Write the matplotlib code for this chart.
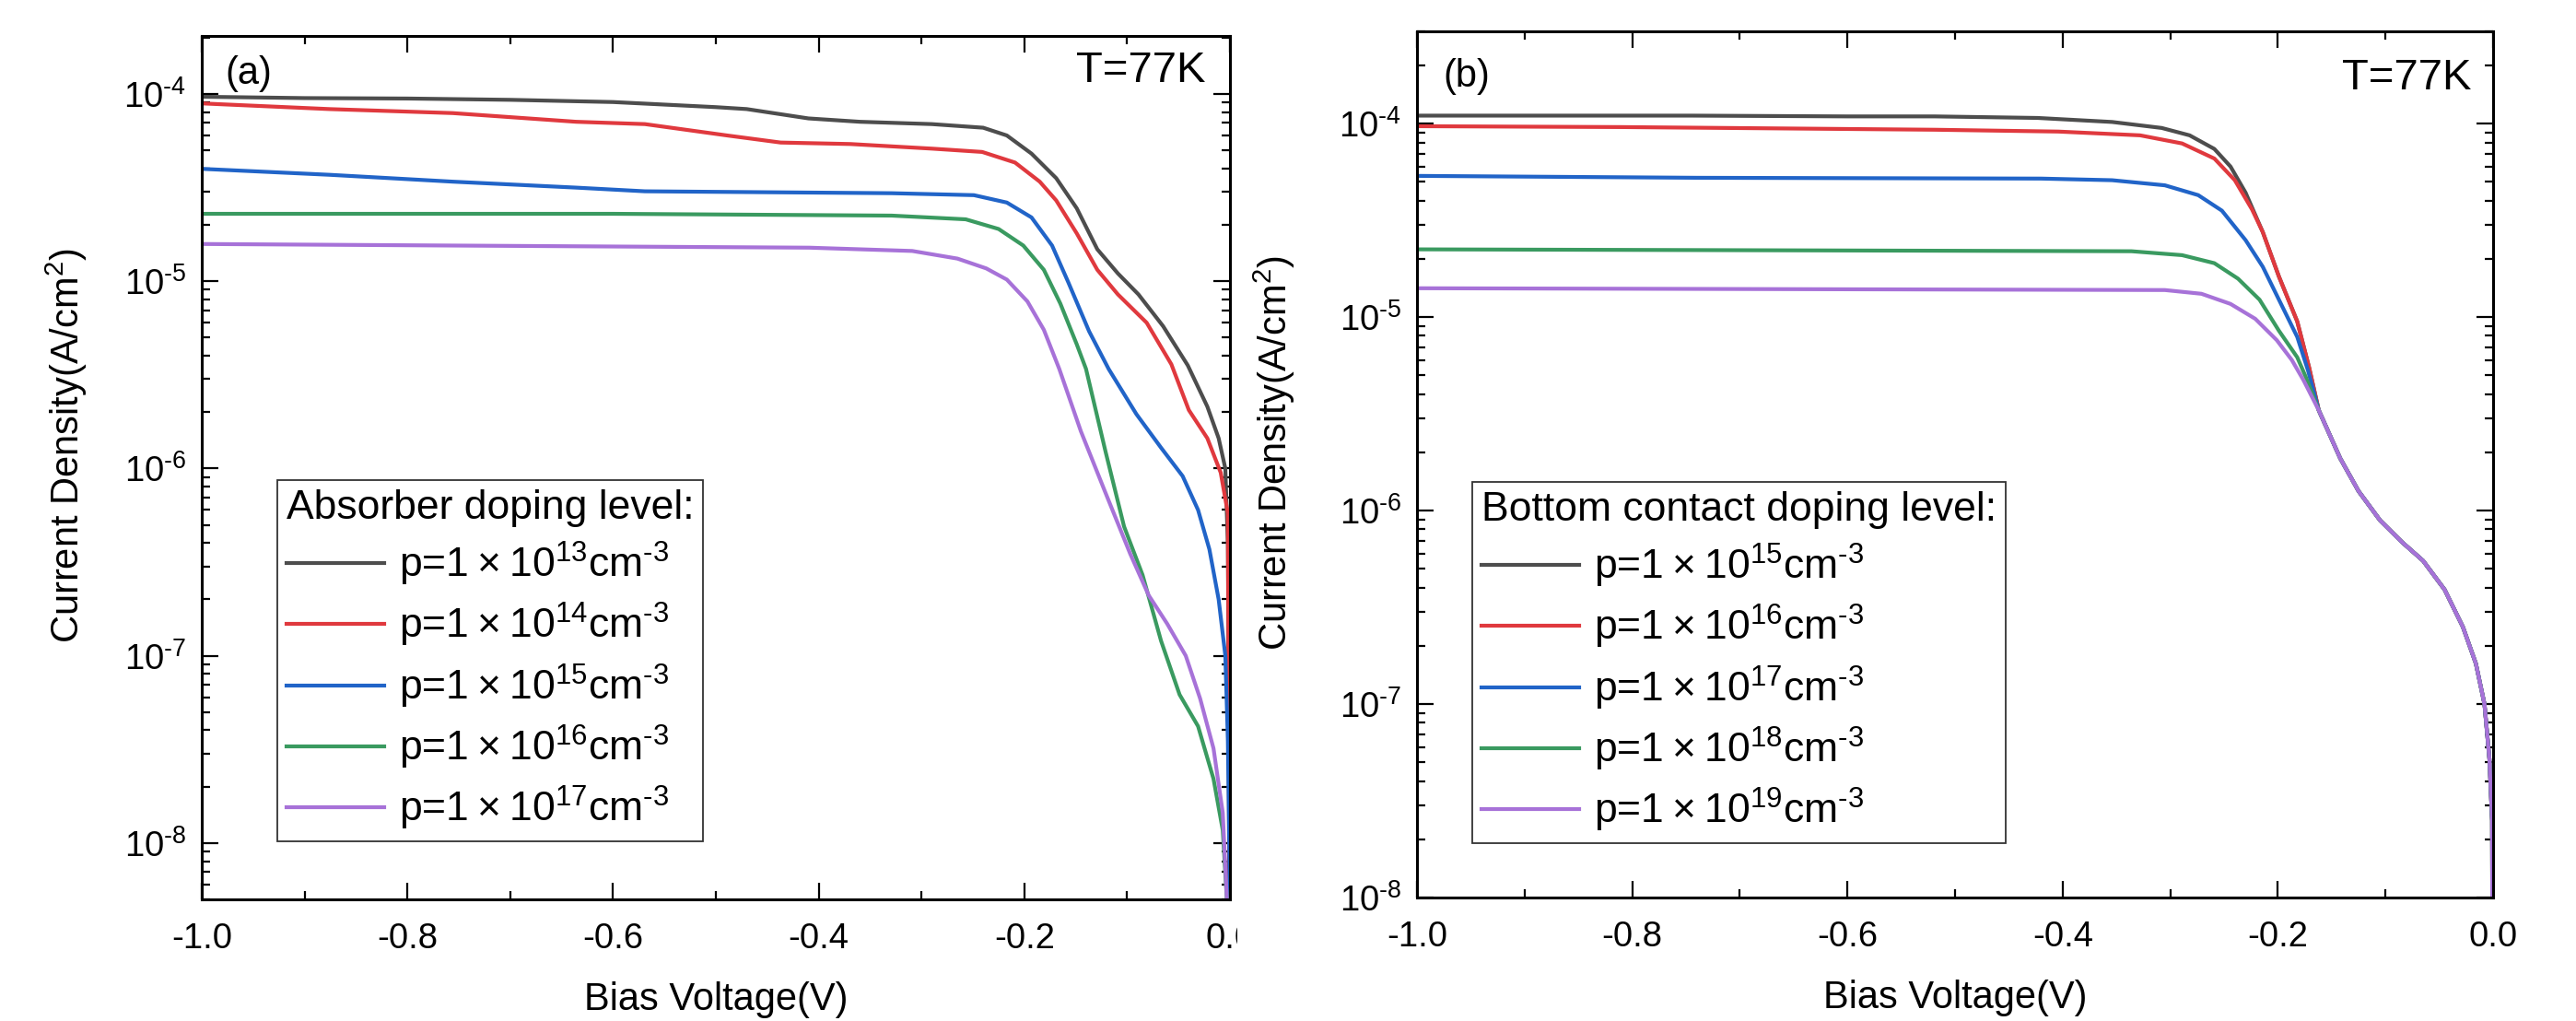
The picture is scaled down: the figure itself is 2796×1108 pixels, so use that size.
import numpy as np
import matplotlib
matplotlib.use("Agg")
import matplotlib.pyplot as plt
from matplotlib.ticker import FixedLocator, FuncFormatter, LogLocator, NullFormatter
from matplotlib.transforms import Bbox, TransformedBbox

plt.rcParams.update({
    'font.family': ['Liberation Sans', 'DejaVu Sans'],
    'mathtext.fontset': 'custom',
    'mathtext.rm': 'Liberation Sans',
    'mathtext.it': 'Liberation Sans:italic',
    'mathtext.bf': 'Liberation Sans:bold',
    'mathtext.default': 'regular',
    'axes.unicode_minus': False,
})

# ---------------- data: panel (a) absorber doping ----------------
va_13 = [-1.0, -0.9, -0.8, -0.7, -0.6, -0.5, -0.47, -0.41, -0.36, -0.29, -0.24, -0.217,
         -0.193, -0.169, -0.149, -0.129, -0.109, -0.089, -0.065, -0.041, -0.022, -0.011,
         -0.0045, -0.002, -0.001, 0.0]
ja_13 = [9.66e-5, 9.5e-5, 9.45e-5, 9.3e-5, 9.05e-5, 8.5e-5, 8.3e-5, 7.4e-5, 7.1e-5, 6.9e-5,
         6.6e-5, 6.0e-5, 4.8e-5, 3.55e-5, 2.45e-5, 1.48e-5, 1.1e-5, 8.5e-6, 5.75e-6, 3.55e-6,
         2.14e-6, 1.45e-6, 1.0e-6, 3.9e-7, 4e-8, 1e-10]

va_14 = [-1.0, -0.876, -0.756, -0.636, -0.569, -0.489, -0.437, -0.369, -0.289, -0.241,
         -0.209, -0.185, -0.169, -0.149, -0.129, -0.109, -0.081, -0.057, -0.040, -0.022,
         -0.009, -0.002, -0.001, 0.0]
ja_14 = [8.9e-5, 8.3e-5, 7.9e-5, 7.1e-5, 6.9e-5, 6.0e-5, 5.5e-5, 5.4e-5, 5.1e-5, 4.9e-5,
         4.3e-5, 3.4e-5, 2.7e-5, 1.8e-5, 1.15e-5, 8.5e-6, 6.0e-6, 3.6e-6, 2.05e-6, 1.45e-6,
         9.5e-7, 5.75e-7, 2.5e-8, 1e-10]

va_15 = [-1.0, -0.876, -0.756, -0.636, -0.569, -0.329, -0.249, -0.217, -0.193, -0.173,
         -0.157, -0.137, -0.118, -0.091, -0.067, -0.046, -0.031, -0.020, -0.011, -0.0045,
         -0.002, -0.0005, 0.0]
ja_15 = [3.98e-5, 3.7e-5, 3.4e-5, 3.16e-5, 3.02e-5, 2.95e-5, 2.88e-5, 2.63e-5, 2.19e-5,
         1.55e-5, 9.8e-6, 5.4e-6, 3.4e-6, 1.95e-6, 1.29e-6, 9.1e-7, 6.0e-7, 3.7e-7, 2.0e-7,
         1.0e-7, 3.5e-8, 8e-9, 1e-10]

va_16 = [-1.0, -0.6, -0.329, -0.257, -0.225, -0.201, -0.181, -0.165, -0.149, -0.140,
         -0.121, -0.103, -0.085, -0.067, -0.049, -0.031, -0.016, -0.007, -0.003, 0.0]
ja_16 = [2.29e-5, 2.29e-5, 2.24e-5, 2.14e-5, 1.9e-5, 1.55e-5, 1.15e-5, 7.6e-6, 4.6e-6,
         3.4e-6, 1.23e-6, 4.9e-7, 2.7e-7, 1.2e-7, 6.2e-8, 4.2e-8, 2.2e-8, 1.17e-8, 5e-9, 1e-10]

va_17 = [-1.0, -0.756, -0.409, -0.309, -0.265, -0.237, -0.217, -0.197, -0.181, -0.166,
         -0.145, -0.121, -0.097, -0.079, -0.061, -0.043, -0.029, -0.016, -0.007, -0.003, 0.0]
ja_17 = [1.58e-5, 1.55e-5, 1.51e-5, 1.45e-5, 1.32e-5, 1.17e-5, 1.02e-5, 7.8e-6, 5.5e-6,
         3.4e-6, 1.58e-6, 7.4e-7, 3.5e-7, 2.1e-7, 1.48e-7, 1.0e-7, 5.9e-8, 3.2e-8, 1.45e-8,
         5e-9, 1e-10]

labels_a = ['p=1\u2009×\u200910$^{13}$cm$^{\\text{-}3}$', 'p=1\u2009×\u200910$^{14}$cm$^{\\text{-}3}$',
            'p=1\u2009×\u200910$^{15}$cm$^{\\text{-}3}$', 'p=1\u2009×\u200910$^{16}$cm$^{\\text{-}3}$',
            'p=1\u2009×\u200910$^{17}$cm$^{\\text{-}3}$']

# ---------------- data: panel (b) bottom contact doping ----------------
vb_15 = [-1.0, -0.744, -0.6, -0.519, -0.423, -0.354, -0.308, -0.282, -0.259, -0.244,
         -0.230, -0.214, -0.199, -0.182, -0.171]
jb_15 = [1.10e-4, 1.10e-4, 1.09e-4, 1.09e-4, 1.07e-4, 1.02e-4, 9.5e-5, 8.7e-5, 7.4e-5,
         6.0e-5, 4.4e-5, 2.75e-5, 1.62e-5, 9.5e-6, 5.5e-6]

vb_16 = [-1.0, -0.81, -0.519, -0.404, -0.328, -0.289, -0.259, -0.240, -0.224, -0.214,
         -0.199, -0.182, -0.171]
jb_16 = [9.7e-5, 9.6e-5, 9.3e-5, 9.1e-5, 8.7e-5, 7.9e-5, 6.6e-5, 5.1e-5, 3.6e-5, 2.75e-5,
         1.62e-5, 9.5e-6, 5.5e-6]

vb_17 = [-1.0, -0.74, -0.42, -0.354, -0.305, -0.274, -0.252, -0.230, -0.214, -0.199,
         -0.182, -0.172]
jb_17 = [5.37e-5, 5.25e-5, 5.2e-5, 5.1e-5, 4.8e-5, 4.27e-5, 3.55e-5, 2.5e-5, 1.82e-5,
         1.23e-5, 7.9e-6, 5.3e-6]

vb_18 = [-1.0, -0.336, -0.289, -0.259, -0.237, -0.217, -0.199, -0.182, -0.174]
jb_18 = [2.24e-5, 2.19e-5, 2.09e-5, 1.9e-5, 1.58e-5, 1.23e-5, 8.5e-6, 6.2e-6, 4.9e-6]

vb_19 = [-1.0, -0.305, -0.271, -0.244, -0.221, -0.201, -0.187, -0.176]
jb_19 = [1.41e-5, 1.38e-5, 1.32e-5, 1.17e-5, 9.8e-6, 7.6e-6, 6.0e-6, 4.7e-6]

# shared tail where all five curves overlap
vb_tail = [-0.162, -0.142, -0.125, -0.105, -0.085, -0.065, -0.045, -0.028,
           -0.016, -0.008, -0.0034, -0.0009, 0.0]
jb_tail = [3.3e-6, 1.86e-6, 1.26e-6, 8.9e-7, 6.9e-7, 5.5e-7, 3.9e-7, 2.5e-7,
           1.62e-7, 1.0e-7, 5.2e-8, 2.5e-8, 1e-10]

labels_b = ['p=1\u2009×\u200910$^{15}$cm$^{\\text{-}3}$', 'p=1\u2009×\u200910$^{16}$cm$^{\\text{-}3}$',
            'p=1\u2009×\u200910$^{17}$cm$^{\\text{-}3}$', 'p=1\u2009×\u200910$^{18}$cm$^{\\text{-}3}$',
            'p=1\u2009×\u200910$^{19}$cm$^{\\text{-}3}$']

colors = ['#4d4d4d', '#e0393e', '#2164c8', '#3a9a60', '#a772d8']
xticks = [-1.0, -0.8, -0.6, -0.4, -0.2, 0.0]

# ---------------- figure ----------------
W, H = 2796, 1108
fig = plt.figure(figsize=(W / 100, H / 100), dpi=100)

def px_axes(x0, x1, ytop, ybot):
    return fig.add_axes([x0 / W, 1 - ybot / H, (x1 - x0) / W, (ybot - ytop) / H])

ax1 = px_axes(219, 1335, 39, 976)
ax2 = px_axes(1538, 2706, 34, 974)

def ylab(v, pos):
    e = int(round(np.log10(v)))
    return '10$^{\\text{-}%d}$' % (-e) if e < 0 else '10$^{%d}$' % e

def style(ax, ylim):
    ax.set_yscale('log')
    ax.set_xlim(-1.0, 0.0)
    ax.set_ylim(*ylim)
    ax.xaxis.set_major_locator(FixedLocator(xticks))
    ax.xaxis.set_major_formatter(FuncFormatter(lambda v, p: '%.1f' % v))
    ax.xaxis.set_minor_locator(FixedLocator([-0.9, -0.7, -0.5, -0.3, -0.1]))
    ax.yaxis.set_major_locator(LogLocator(base=10, numticks=20))
    ax.yaxis.set_minor_locator(LogLocator(base=10, subs=np.arange(2, 10), numticks=20))
    ax.yaxis.set_major_formatter(FuncFormatter(ylab))
    ax.yaxis.set_minor_formatter(NullFormatter())
    ax.tick_params(which='both', direction='in', top=True, right=True, width=1.6,
                   colors='black')
    ax.tick_params(which='major', length=13)
    ax.tick_params(which='minor', length=6.5)
    ax.tick_params(axis='x', which='major', labelsize=27.5, pad=18)
    ax.tick_params(axis='y', which='major', labelsize=27.5, pad=12)
    for s in ax.spines.values():
        s.set_linewidth(2.2)
        s.set_color('black')

style(ax1, (5e-9, 2.04e-4))
style(ax2, (1e-8, 3e-4))

series_a = [(va_13, ja_13), (va_14, ja_14), (va_15, ja_15), (va_16, ja_16), (va_17, ja_17)]
for (v, j), c, lab in zip(series_a, colors, labels_a):
    ax1.plot(v, j, color=c, lw=3, label=lab, solid_joinstyle='round')

series_b = [(vb_15, jb_15), (vb_16, jb_16), (vb_17, jb_17), (vb_18, jb_18), (vb_19, jb_19)]
for (v, j), c, lab in zip(series_b, colors, labels_b):
    ax2.plot(list(v) + vb_tail, list(j) + jb_tail, color=c, lw=3, label=lab,
             solid_joinstyle='round')

for ax, lx, ly, ttl, lpos in [
        (ax1, -0.1317, 0.525, 'Absorber doping level:', (0.0735, 0.0672)),
        (ax2, -0.1327, 0.513, 'Bottom contact doping level:', (0.0514, 0.0628))]:
    ax.set_xlabel('Bias Voltage(V)', fontsize=30, va='center')
    ax.xaxis.set_label_coords(0.5, -0.1163)
    ax.set_ylabel('Current Density(A/cm$^2$)', fontsize=30, va='center')
    ax.yaxis.set_label_coords(lx, ly)
    leg = ax.legend(loc='lower left', bbox_to_anchor=lpos, borderaxespad=0,
                    title=ttl, alignment='left', fontsize=32, title_fontsize=32,
                    frameon=True, fancybox=False, framealpha=1, edgecolor='#333333',
                    handlelength=2.4, handletextpad=0.34, borderpad=0.22,
                    labelspacing=0.32)
    leg.get_frame().set_linewidth(1.3)

ax1.text(0.0457, 0.956, '(a)', transform=ax1.transAxes, fontsize=30, ha='center', va='center')
ax1.text(0.9767, 0.9594, 'T=77K', transform=ax1.transAxes, fontsize=34, ha='right', va='center')
ax2.text(0.0462, 0.948, '(b)', transform=ax2.transAxes, fontsize=30, ha='center', va='center')
ax2.text(0.9803, 0.9457, 'T=77K', transform=ax2.transAxes, fontsize=34, ha='right', va='center')

# the "0.0" label of panel (a) is cut off at its right side in the original
clipbox = TransformedBbox(Bbox([[0, 0], [1343 / W, 1]]), fig.transFigure)
last = ax1.xaxis.get_major_ticks()[-1]
last.label1.set_clip_on(True)
last.label1.set_clip_box(clipbox)

fig.savefig('out.png', dpi=100, facecolor='white')
